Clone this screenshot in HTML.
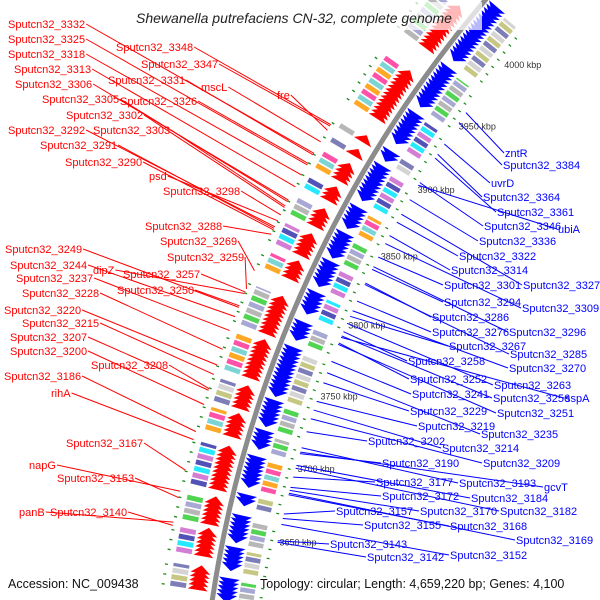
<!DOCTYPE html>
<html><head><meta charset="utf-8"><style>
html,body{margin:0;padding:0;background:#fff;width:600px;height:600px;overflow:hidden;}
svg{display:block;font-family:"Liberation Sans",sans-serif;overflow:hidden;}
</style></head><body>
<svg id="map" width="600" height="600" viewBox="0 0 600 600">
<g id="boxes"></g>
<g id="dots"></g>
<circle cx="1399" cy="778" r="1200" fill="none" stroke="#8c8c8c" stroke-width="5"/>
<g id="arrows"></g>
<g id="ticks"></g>
<rect x="122" y="2" width="360" height="28" fill="#fff" opacity="0.72"/>
<g id="labels"></g>
<text x="294" y="23" text-anchor="middle" font-size="14" font-style="italic" fill="#222">Shewanella putrefaciens CN-32, complete genome</text>
<text x="8" y="588" font-size="12.5" fill="#111">Accession: NC_009438</text>
<text x="260" y="588" font-size="12.5" fill="#111">Topology: circular; Length: 4,659,220 bp; Genes: 4,100</text>
</svg>
<script>
const redSegments=[[3611,3625],[3632,3648],[3652,3668],[3674,3700],[3708,3722],[3726,3740],[3746,3770],[3775,3800],[3812,3822],[3828,3842],[3848,3860],[3866,3874],[3880,3892],[3898,3902],[3908,3912],[3925,3960],[3978,4010]];
const blueSegments=[[3606,3620],[3626,3640],[3644,3660],[3668,3675],[3680,3700],[3705,3715],[3720,3735],[3740,3772],[3778,3790],[3796,3810],[3815,3830],[3835,3850],[3856,3870],[3876,3900],[3905,3912],[3918,3940],[3946,3975],[3982,4024]];
const tickKbp=[3650,3700,3750,3800,3850,3900,3950,4000];
const redNames=["Sputcn32_3332","Sputcn32_3325","Sputcn32_3348","Sputcn32_3318","Sputcn32_3347","Sputcn32_3313","Sputcn32_3331","Sputcn32_3306","mscL","fre","Sputcn32_3305","Sputcn32_3326","Sputcn32_3302","Sputcn32_3292","Sputcn32_3303","Sputcn32_3291","Sputcn32_3290","psd","Sputcn32_3298","Sputcn32_3288","Sputcn32_3269","Sputcn32_3249","Sputcn32_3259","Sputcn32_3244","dipZ","Sputcn32_3257","Sputcn32_3237","Sputcn32_3250","Sputcn32_3228","Sputcn32_3220","Sputcn32_3215","Sputcn32_3207","Sputcn32_3200","Sputcn32_3208","Sputcn32_3186","rihA","Sputcn32_3167","napG","Sputcn32_3153","panB","Sputcn32_3140"];
const redKbp=[3887,3879,3907,3872,3906,3864,3886,3855,3895,3903,3854,3880,3850,3837,3851,3836,3835,3841,3845,3832,3808,3784,3796,3778,3793,3794,3769,3785,3757,3747,3741,3731,3722,3732,3705,3700,3681,3668,3664,3649,3647];
const redLabelX=[8,8,116,8,141,14,108,15,201,277,42,120,66,8,93,40,65,149,163,145,160,5,167,10,93,123,16,117,22,4,22,10,10,91,4,51,66,29,57,19,50];
const redLabelY=[24,39,47,54,64,69,80,84,87,95,99,101,115,130,130,145,162,176,191,226,241,249,257,265,270,274,278,290,293,310,323,337,351,365,376,393,443,465,478,512,512];
const blueNames=["zntR","Sputcn32_3384","uvrD","Sputcn32_3364","Sputcn32_3361","Sputcn32_3346","ubiA","Sputcn32_3336","Sputcn32_3322","Sputcn32_3314","Sputcn32_3301","Sputcn32_3327","Sputcn32_3294","Sputcn32_3309","Sputcn32_3286","Sputcn32_3276","Sputcn32_3296","Sputcn32_3267","Sputcn32_3285","Sputcn32_3258","Sputcn32_3270","Sputcn32_3252","Sputcn32_3263","Sputcn32_3241","Sputcn32_3256","sspA","Sputcn32_3229","Sputcn32_3251","Sputcn32_3219","Sputcn32_3235","Sputcn32_3214","Sputcn32_3202","Sputcn32_3209","Sputcn32_3190","Sputcn32_3177","Sputcn32_3193","gcvT","Sputcn32_3172","Sputcn32_3184","Sputcn32_3157","Sputcn32_3170","Sputcn32_3182","Sputcn32_3155","Sputcn32_3168","Sputcn32_3169","Sputcn32_3143","Sputcn32_3142","Sputcn32_3152"];
const blueKbp=[3960,3952,3935,3927,3924,3905,3903,3892,3875,3865,3849,3881,3840,3859,3830,3817,3842,3806,3829,3795,3810,3787,3801,3774,3792,3791,3759,3786,3746,3766,3740,3725,3734,3710,3694,3714,3711,3687,3702,3669,3685,3700,3666,3682,3683,3651,3650,3662];
const blueLabelX=[505,503,491,483,497,484,558,479,459,451,444,523,444,522,432,432,509,449,510,408,509,410,494,412,493,565,410,497,418,481,442,368,483,382,376,459,544,382,471,336,420,500,364,450,516,330,367,450];
const blueLabelY=[153,165,183,197,212,226,229,241,256,270,285,285,302,308,317,332,332,346,354,361,368,379,385,394,398,398,411,413,426,434,448,441,463,463,482,483,487,496,498,511,511,511,525,526,540,544,557,555];
const palette=["#ff3399","#00e5ff","#9999cc","#bdbd6e","#ff9900","#3333aa","#33cc33","#cccccc","#66cccc","#cc66cc","#aaaaaa","#6666aa"];

const NS="http://www.w3.org/2000/svg";
function phi(k){return (11.87+(k-3650)*0.0762)*Math.PI/180;}
function pol(r,k){const p=phi(k);return [1399-r*Math.cos(p),778-r*Math.sin(p)];}
function mk(tag,attrs,parent){const e=document.createElementNS(NS,tag);for(const a in attrs)e.setAttribute(a,attrs[a]);parent.appendChild(e);return e;}
const gA=document.getElementById('arrows'),gB=document.getElementById('boxes'),gD=document.getElementById('dots'),gT=document.getElementById('ticks'),gL=document.getElementById('labels');

function arrowsFor(segs,r1,r2,dir,color,name){
  segs.forEach(function(s){
    for(let k=s[0];k<s[1]-2;k+=2.6){
      const base=dir>0?k:k+5, tip=dir>0?k+5:k;
      const a=pol(r1,base),b=pol(r2,base),c=pol((r1+r2)/2,tip);
      const p=mk('polygon',{points:a.join(',')+' '+b.join(',')+' '+c.join(','),fill:color},gA);
      
      
    }
  });
}
arrowsFor(redSegments,1206,1226,1,'#ff0000','forward-gene-arrow');
arrowsFor(blueSegments,1176,1197,-1,'#0000ff','reverse-gene-arrow');

function boxesFor(segs,r1,r2,dotR,name){
  segs.forEach(function(s,i){
    for(let k=s[0];k<s[1];k+=4){
      const e=Math.min(k+3,s[1]);
      const col=palette[(Math.floor(k)+i)%palette.length];
      const a=pol(r1,k),b=pol(r2,k),c=pol(r2,e),d=pol(r1,e);
      const p=mk('polygon',{points:[a,b,c,d].map(q=>q.join(',')).join(' '),fill:col,opacity:0.85},gB);
      
      
    }
    for(let k=s[0];k<s[1];k+=6){
      const a=pol(dotR,k),b=pol(dotR,k+0.8);
      const l=mk('line',{x1:a[0],y1:a[1],x2:b[0],y2:b[1],stroke:'#1a8a1a','stroke-width':3},gD);
      
      
    }
  });
}
boxesFor(redSegments,1228,1244,1251,'forward-cog-box');
boxesFor(blueSegments,1159,1174,1152,'reverse-cog-box');

tickKbp.forEach(function(k){
  const p=pol(1144,k);
  const t=mk('text',{x:p[0],y:p[1]+3,'font-size':9,fill:'#333'},gT);
  t.textContent=k+' kbp';
  
  
});

redNames.forEach(function(n,i){
  const t=mk('text',{x:redLabelX[i],y:redLabelY[i]+4,'font-size':11,fill:'#ff0000'},gL);
  t.textContent=n;
  
  
  const w=t.getComputedTextLength?t.getComputedTextLength():n.length*6.1;
  const e=pol(1252,redKbp[i]);
  const l=mk('line',{x1:redLabelX[i]+w+1,y1:redLabelY[i],x2:e[0],y2:e[1],stroke:'#ff0000','stroke-width':1},gL);
  
  
});
blueNames.forEach(function(n,i){
  const t=mk('text',{x:blueLabelX[i],y:blueLabelY[i]+4,'font-size':11,fill:'#0000ff'},gL);
  t.textContent=n;
  
  
  const e=pol(1146,blueKbp[i]);
  const l=mk('line',{x1:e[0],y1:e[1],x2:blueLabelX[i]-1,y2:blueLabelY[i],stroke:'#0000ff','stroke-width':1},gL);
  
  
});
</script>
</body></html>
